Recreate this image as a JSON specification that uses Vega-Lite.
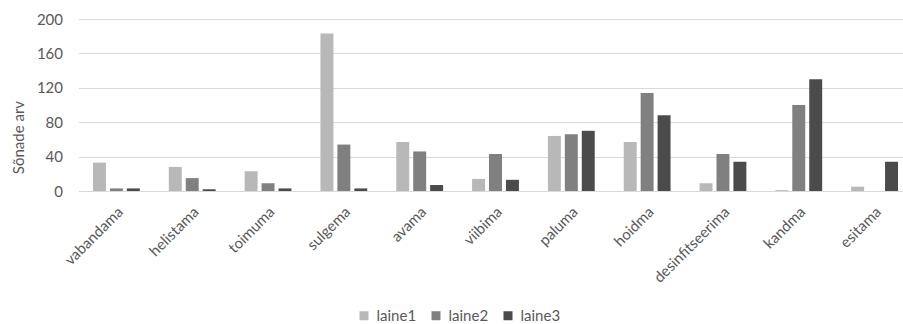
{
  "$schema": "https://vega.github.io/schema/vega-lite/v6.json",
  "autosize": {"type": "none"},
  "padding": {"left": 78.5, "top": 19, "right": 0, "bottom": 133},
  "width": 834,
  "height": 172,
  "background": "white",
  "config": {
    "font": "Lato",
    "view": {"stroke": null},
    "axis": {"labelColor": "#595959", "titleColor": "#595959", "labelFont": "Lato", "titleFont": "Lato"},
    "legend": {"labelFont": "Lato", "labelColor": "#595959"}
  },
  "data": {
    "values": [
      {"verb": "vabandama", "laine": "laine1", "arv": 33},
      {"verb": "vabandama", "laine": "laine2", "arv": 3},
      {"verb": "vabandama", "laine": "laine3", "arv": 3},
      {"verb": "helistama", "laine": "laine1", "arv": 28},
      {"verb": "helistama", "laine": "laine2", "arv": 15},
      {"verb": "helistama", "laine": "laine3", "arv": 2},
      {"verb": "toimuma", "laine": "laine1", "arv": 23},
      {"verb": "toimuma", "laine": "laine2", "arv": 9},
      {"verb": "toimuma", "laine": "laine3", "arv": 3},
      {"verb": "sulgema", "laine": "laine1", "arv": 183},
      {"verb": "sulgema", "laine": "laine2", "arv": 54},
      {"verb": "sulgema", "laine": "laine3", "arv": 3},
      {"verb": "avama", "laine": "laine1", "arv": 57},
      {"verb": "avama", "laine": "laine2", "arv": 46},
      {"verb": "avama", "laine": "laine3", "arv": 7},
      {"verb": "viibima", "laine": "laine1", "arv": 14},
      {"verb": "viibima", "laine": "laine2", "arv": 43},
      {"verb": "viibima", "laine": "laine3", "arv": 13},
      {"verb": "paluma", "laine": "laine1", "arv": 64},
      {"verb": "paluma", "laine": "laine2", "arv": 66},
      {"verb": "paluma", "laine": "laine3", "arv": 70},
      {"verb": "hoidma", "laine": "laine1", "arv": 57},
      {"verb": "hoidma", "laine": "laine2", "arv": 114},
      {"verb": "hoidma", "laine": "laine3", "arv": 88},
      {"verb": "desinfitseerima", "laine": "laine1", "arv": 9},
      {"verb": "desinfitseerima", "laine": "laine2", "arv": 43},
      {"verb": "desinfitseerima", "laine": "laine3", "arv": 34},
      {"verb": "kandma", "laine": "laine1", "arv": 1},
      {"verb": "kandma", "laine": "laine2", "arv": 100},
      {"verb": "kandma", "laine": "laine3", "arv": 130},
      {"verb": "esitama", "laine": "laine1", "arv": 5},
      {"verb": "esitama", "laine": "laine2", "arv": 0},
      {"verb": "esitama", "laine": "laine3", "arv": 34}
    ]
  },
  "mark": {"type": "bar"},
  "encoding": {
    "x": {
      "field": "verb",
      "type": "nominal",
      "sort": null,
      "scale": {"paddingInner": 0.33, "paddingOuter": 0.165},
      "axis": {
        "title": null,
        "labelAngle": -45,
        "labelAlign": "right",
        "labelBaseline": "middle",
        "labelFontSize": 15,
        "labelPadding": 18,
        "labelOffset": 4,
        "ticks": false,
        "domainColor": "#d9d9d9",
        "domainWidth": 1
      }
    },
    "xOffset": {
      "field": "laine",
      "type": "nominal",
      "scale": {"paddingInner": 0.235, "paddingOuter": 0.1175}
    },
    "y": {
      "field": "arv",
      "type": "quantitative",
      "scale": {"domain": [0, 200]},
      "axis": {
        "title": "Sõnade arv",
        "titleFontSize": 15,
        "titleFontWeight": "normal",
        "titlePadding": 10,
        "titleY": 118,
        "values": [0, 40, 80, 120, 160, 200],
        "labelFontSize": 15,
        "labelPadding": 16,
        "ticks": false,
        "domain": false,
        "gridColor": "#d9d9d9",
        "gridWidth": 1
      }
    },
    "color": {
      "field": "laine",
      "type": "nominal",
      "scale": {"domain": ["laine1", "laine2", "laine3"], "range": ["#b8b8b8", "#808080", "#4b4b4b"]},
      "legend": {
        "title": null,
        "orient": "none",
        "direction": "horizontal",
        "legendX": 278,
        "legendY": 289,
        "symbolType": "square",
        "symbolSize": 81,
        "symbolStrokeWidth": 0,
        "labelFontSize": 15,
        "columnPadding": 12,
        "labelOffset": 5
      }
    }
  }
}
